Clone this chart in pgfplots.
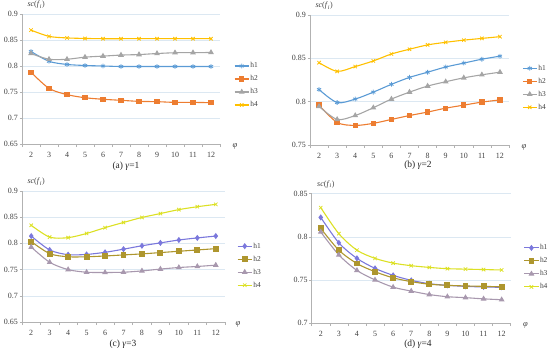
\documentclass[border=0pt]{standalone}
\usepackage{fontspec}
\setmainfont{Liberation Serif}
\usepackage{pgfplots}
\usepackage{pgfplotstable}
\pgfplotsset{compat=1.18}

\definecolor{aone}{HTML}{5B9BD5}
\definecolor{atwo}{HTML}{ED7D31}
\definecolor{athree}{HTML}{A5A5A5}
\definecolor{afour}{HTML}{FFC000}
\definecolor{cone}{HTML}{7B78DC}
\definecolor{ctwo}{HTML}{AE962E}
\definecolor{cthree}{HTML}{A898AE}
\definecolor{cfour}{HTML}{DCE024}
\definecolor{gridc}{HTML}{DCE8F2}
\definecolor{txt}{HTML}{404040}

\pgfplotstableread{
x h1 h2 h3 h4
2 0.828 0.788 0.824 0.869
3 0.809 0.757 0.813 0.857
4 0.803 0.745 0.813 0.854
5 0.801 0.739 0.817 0.853
6 0.800 0.736 0.819 0.8525
7 0.799 0.734 0.821 0.8525
8 0.799 0.732 0.822 0.8525
9 0.799 0.7314 0.824 0.8525
10 0.799 0.730 0.8255 0.8525
11 0.799 0.730 0.8256 0.8525
12 0.799 0.7295 0.826 0.8525
}\tA
\pgfplotstableread{
x h1 h2 h3 h4
2 0.814 0.796 0.7945 0.845
3 0.799 0.776 0.7795 0.835
4 0.803 0.7726 0.784 0.8405
5 0.811 0.775 0.793 0.847
6 0.820 0.7795 0.803 0.855
7 0.828 0.784 0.811 0.8605
8 0.834 0.788 0.818 0.8655
9 0.840 0.7925 0.823 0.8685
10 0.8445 0.796 0.8275 0.871
11 0.849 0.7995 0.831 0.873
12 0.8525 0.802 0.834 0.875
}\tB
\pgfplotstableread{
x h1 h2 h3 h4
2 0.814 0.8035 0.793 0.8345
3 0.7875 0.7805 0.764 0.812
4 0.7785 0.7745 0.750 0.811
5 0.779 0.7745 0.745 0.819
6 0.783 0.776 0.7445 0.830
7 0.789 0.778 0.745 0.840
8 0.7955 0.780 0.7475 0.8495
9 0.801 0.7825 0.751 0.857
10 0.8065 0.785 0.754 0.8645
11 0.8105 0.7875 0.756 0.870
12 0.814 0.790 0.7585 0.8745
}\tC
\pgfplotstableread{
x h1 h2 h3 h4
2 0.8225 0.8098 0.8056 0.8338
3 0.793 0.7845 0.779 0.8036
4 0.775 0.769 0.761 0.7845
5 0.7634 0.7595 0.750 0.775
6 0.7553 0.7524 0.7416 0.7695
7 0.7495 0.748 0.737 0.7665
8 0.7456 0.745 0.733 0.7645
9 0.7437 0.7437 0.7305 0.763
10 0.7425 0.743 0.7294 0.7625
11 0.7418 0.7425 0.728 0.762
12 0.7414 0.742 0.727 0.7615
}\tD

\pgfplotsset{
  panel/.style={
    anchor=south west, scale only axis, clip=false,
    xmin=1.5, xmax=12.5,
    xtick={2,3,4,5,6,7,8,9,10,11,12},
    xticklabels={2,3,4,5,6,7,8,9,10,11,12},
    minor xtick={1.5,2.5,3.5,4.5,5.5,6.5,7.5,8.5,9.5,10.5,11.5,12.5},
    major x tick style={draw=none},
    minor x tick style={draw=gray!60, line width=0.5bp},
    minor tick length=3bp, major tick length=2.5bp,
    tick align=outside,
    ytick style={draw=gray!60, line width=0.5bp},
    axis x line*=bottom, axis y line*=left,
    axis line style={draw=gray!60, line width=0.6bp, -},
    ymajorgrids, grid style={draw=gridc, line width=0.6bp},
    tick label style={font=\fontsize{8}{9}\selectfont, text=txt},
    xticklabel style={yshift=-2bp},
    yticklabel style={inner sep=1.5bp},
    legend cell align=left,
    legend image code/.code={\draw[mark repeat=2,mark phase=2,##1] plot coordinates {(0bp,0bp) (7bp,0bp) (14bp,0bp)};},
    legend style={draw=none, fill=none, anchor=west,
      font=\fontsize{7.5}{8}\selectfont, text=txt,
      nodes={inner sep=1bp, text height=5.5bp, text depth=1.5bp},
      row sep=4bp},
    every axis plot/.append style={line width=1.1bp, smooth, tension=0.5},
  },
}

\begin{document}
\begin{tikzpicture}[x=1bp,y=1bp]
\useasboundingbox (0,0) rectangle (550,354);

% (a)
\begin{axis}[panel, at={(22bp,210bp)}, width=198bp, height=130bp,
  ymin=0.65, ymax=0.9, ytick={0.65,0.7,0.75,0.8,0.85,0.9},
  yticklabels={0.65,0.7,0.75,0.8,0.85,0.9},
  legend style={at={(rel axis cs:1,0.45)}, xshift=11bp}]
\addplot[aone, mark=asterisk, mark size=2.4bp, mark options={solid, line width=0.8bp}] table[x=x,y=h1]{\tA};
\addplot[atwo, mark=square*, mark size=2.1bp, mark options={solid, fill=atwo}] table[x=x,y=h2]{\tA};
\addplot[athree, mark=triangle*, mark size=2.3bp, mark options={solid, fill=athree}] table[x=x,y=h3]{\tA};
\addplot[afour, mark=x, mark size=2.4bp, mark options={solid, line width=0.8bp}] table[x=x,y=h4]{\tA};
\legend{h1,h2,h3,h4}
\node[anchor=west, font=\fontsize{8}{9}\selectfont, text=txt] at (rel axis cs:0,1) [xshift=2bp, yshift=9bp] {\textit{sc}(\textit{f}\textsubscript{\textit{i}})};
\node[anchor=west, font=\fontsize{8.5}{9}\selectfont, text=txt] at (rel axis cs:1,0) [xshift=9bp, yshift=-2bp] {\textit{φ}};
\end{axis}

% (b)
\begin{axis}[panel, at={(310bp,209bp)}, width=199bp, height=130bp,
  ymin=0.75, ymax=0.9, ytick={0.75,0.8,0.85,0.9},
  yticklabels={0.75,0.8,0.85,0.9},
  legend style={at={(rel axis cs:1,0.44)}, xshift=10bp}]
\addplot[aone, mark=asterisk, mark size=2.4bp, mark options={solid, line width=0.8bp}] table[x=x,y=h1]{\tB};
\addplot[atwo, mark=square*, mark size=2.1bp, mark options={solid, fill=atwo}] table[x=x,y=h2]{\tB};
\addplot[athree, mark=triangle*, mark size=2.3bp, mark options={solid, fill=athree}] table[x=x,y=h3]{\tB};
\addplot[afour, mark=x, mark size=2.4bp, mark options={solid, line width=0.8bp}] table[x=x,y=h4]{\tB};
\legend{h1,h2,h3,h4}
\node[anchor=west, font=\fontsize{8}{9}\selectfont, text=txt] at (rel axis cs:0,1) [xshift=2bp, yshift=9bp] {\textit{sc}(\textit{f}\textsubscript{\textit{i}})};
\node[anchor=west, font=\fontsize{8.5}{9}\selectfont, text=txt] at (rel axis cs:1,0) [xshift=9bp, yshift=-2bp] {\textit{φ}};
\end{axis}

% (c)
\begin{axis}[panel, at={(22bp,32bp)}, width=203bp, height=131bp,
  ymin=0.65, ymax=0.9, ytick={0.65,0.7,0.75,0.8,0.85,0.9},
  yticklabels={0.65,0.7,0.75,0.8,0.85,0.9},
  legend style={at={(rel axis cs:1,0.43)}, xshift=9bp}]
\addplot[cone, mark=diamond*, mark size=2.2bp, mark options={solid, fill=cone}] table[x=x,y=h1]{\tC};
\addplot[ctwo, mark=square*, mark size=2.4bp, mark options={solid, fill=ctwo}] table[x=x,y=h2]{\tC};
\addplot[cthree, mark=triangle*, mark size=2.3bp, mark options={solid, fill=cthree}] table[x=x,y=h3]{\tC};
\addplot[cfour, mark=x, mark size=2.4bp, mark options={solid, line width=0.8bp}] table[x=x,y=h4]{\tC};
\legend{h1,h2,h3,h4}
\node[anchor=west, font=\fontsize{8}{9}\selectfont, text=txt] at (rel axis cs:0,1) [xshift=2bp, yshift=9bp] {\textit{sc}(\textit{f}\textsubscript{\textit{i}})};
\node[anchor=west, font=\fontsize{8.5}{9}\selectfont, text=txt] at (rel axis cs:1,0) [xshift=7bp, yshift=-2bp] {\textit{φ}};
\end{axis}

% (d)
\begin{axis}[panel, at={(311.7bp,31bp)}, width=199bp, height=129.3bp,
  ymin=0.7, ymax=0.85, ytick={0.7,0.75,0.8,0.85},
  yticklabels={0.7,0.75,0.8,0.85},
  legend style={at={(rel axis cs:1,0.43)}, xshift=10bp}]
\addplot[cone, mark=diamond*, mark size=2.2bp, mark options={solid, fill=cone}] table[x=x,y=h1]{\tD};
\addplot[ctwo, mark=square*, mark size=2.4bp, mark options={solid, fill=ctwo}] table[x=x,y=h2]{\tD};
\addplot[cthree, mark=triangle*, mark size=2.3bp, mark options={solid, fill=cthree}] table[x=x,y=h3]{\tD};
\addplot[cfour, mark=x, mark size=2.4bp, mark options={solid, line width=0.8bp}] table[x=x,y=h4]{\tD};
\legend{h1,h2,h3,h4}
\node[anchor=west, font=\fontsize{8}{9}\selectfont, text=txt] at (rel axis cs:0,1) [xshift=2bp, yshift=9bp] {\textit{sc}(\textit{f}\textsubscript{\textit{i}})};
\node[anchor=west, font=\fontsize{8.5}{9}\selectfont, text=txt] at (rel axis cs:1,0) [xshift=9bp, yshift=-2bp] {\textit{φ}};
\end{axis}

\node[font=\fontsize{9.5}{11}\selectfont, text=black!85] at (126,188) {(a) \textit{γ}=1};
\node[font=\fontsize{9.5}{11}\selectfont, text=black!85] at (418,189) {(b) \textit{γ}=2};
\node[font=\fontsize{9.5}{11}\selectfont, text=black!85] at (123,10) {(c) \textit{γ}=3};
\node[font=\fontsize{9.5}{11}\selectfont, text=black!85] at (418,10) {(d) \textit{γ}=4};
\end{tikzpicture}
\end{document}
